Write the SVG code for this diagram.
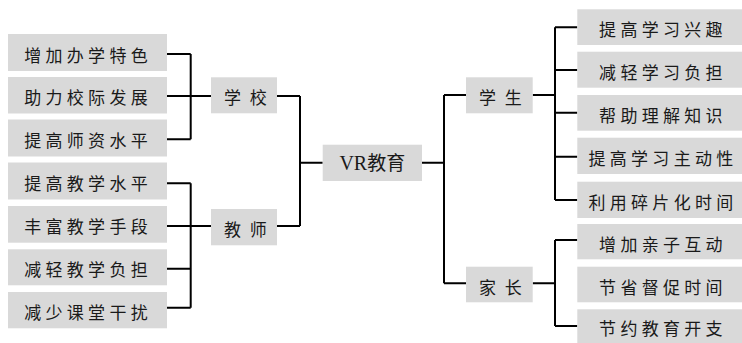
<svg xmlns="http://www.w3.org/2000/svg" width="742" height="343" viewBox="0 0 742 343">
<style>
.b{fill:#d9d9d9}
.t{font-family:"Noto Sans CJK SC","Noto Sans CJK JP",sans-serif;font-size:17px;letter-spacing:4.3px;text-anchor:middle;dominant-baseline:central;fill:#1a1a1a}
.t2{letter-spacing:8.7px}
.c{fill:none;stroke:#000;stroke-width:2}
</style>
<rect width="742" height="343" fill="#fff"/>
<g id="connectors" class="c">
<path d="M167 54H190.7M167 96H211M167 139.3H190.7M190.7 54V139.3"/>
<path d="M167 183.3H190.7M167 226H211M167 268.7H190.7M167 307.7H190.7M190.7 183.3V307.7"/>
<path d="M277 96H300M277 226H300M300 96V226M300 162.7H322.7"/>
<path d="M422 162.7H444M444 95V283.3M444 95H466M444 283.3H466"/>
<path d="M532.7 95H555M555 27.3V200M555 27.3H577.3M555 70H577.3M555 112.7H577.3M555 156.7H577.3M555 200H577.3"/>
<path d="M532.7 283.3H555M555 240V326M555 240H577.3M555 326H577.3"/>
</g>
<g id="n1"><rect class="b" x="8" y="34" width="159" height="37"/><text class="t" x="88.1" y="54">增加办学特色</text></g>
<g id="n2"><rect class="b" x="8" y="77" width="159" height="36.5"/><text class="t" x="88.1" y="96.7">助力校际发展</text></g>
<g id="n3"><rect class="b" x="8" y="119.5" width="159" height="37"/><text class="t" x="88.1" y="139.5">提高师资水平</text></g>
<g id="n4"><rect class="b" x="8" y="162.5" width="159" height="37"/><text class="t" x="88.1" y="182.5">提高教学水平</text></g>
<g id="n5"><rect class="b" x="8" y="206" width="159" height="36.7"/><text class="t" x="88.1" y="225.8">丰富教学手段</text></g>
<g id="n6"><rect class="b" x="8" y="249.3" width="159" height="36"/><text class="t" x="88.1" y="268.8">减轻教学负担</text></g>
<g id="n7"><rect class="b" x="8" y="292" width="159" height="36.3"/><text class="t" x="88.1" y="311.6">减少课堂干扰</text></g>
<g id="school"><rect class="b" x="211" y="77.3" width="66" height="36"/><text class="t t2" x="249.7" y="96.8">学校</text></g>
<g id="teacher"><rect class="b" x="211" y="209" width="66" height="36.3"/><text class="t t2" x="249.7" y="228.6">教师</text></g>
<g id="vr"><rect class="b" x="322.7" y="144.7" width="99.3" height="36.3"/><text x="372.3" y="170" text-anchor="middle" fill="#1a1a1a" font-size="20"><tspan font-family="Liberation Serif,serif">VR</tspan><tspan font-family="Noto Sans CJK SC,sans-serif" font-size="19">教育</tspan></text></g>
<g id="student"><rect class="b" x="466" y="77.3" width="66.7" height="36"/><text class="t t2" x="504.7" y="96.8">学生</text></g>
<g id="parent"><rect class="b" x="466" y="266.7" width="66.7" height="35.6"/><text class="t t2" x="504.7" y="286">家长</text></g>
<g id="s1"><rect class="b" x="577.3" y="9.3" width="165" height="35.7"/><text class="t" x="663" y="28.7">提高学习兴趣</text></g>
<g id="s2"><rect class="b" x="577.3" y="51.7" width="165" height="36"/><text class="t" x="663" y="71.2">减轻学习负担</text></g>
<g id="s3"><rect class="b" x="577.3" y="95" width="165" height="35.7"/><text class="t" x="663" y="114.4">帮助理解知识</text></g>
<g id="s4"><rect class="b" x="577.3" y="137.7" width="165" height="36.3"/><text class="t" x="663" y="157.4">提高学习主动性</text></g>
<g id="s5"><rect class="b" x="577.3" y="181.7" width="165" height="36.3"/><text class="t" x="663" y="201.4">利用碎片化时间</text></g>
<g id="p1"><rect class="b" x="577.3" y="224" width="165" height="35.3"/><text class="t" x="663" y="243.2">增加亲子互动</text></g>
<g id="p2"><rect class="b" x="577.3" y="266.7" width="165" height="35.6"/><text class="t" x="663" y="286">节省督促时间</text></g>
<g id="p3"><rect class="b" x="577.3" y="309.3" width="165" height="34"/><text class="t" x="663" y="327.8">节约教育开支</text></g>
</svg>
